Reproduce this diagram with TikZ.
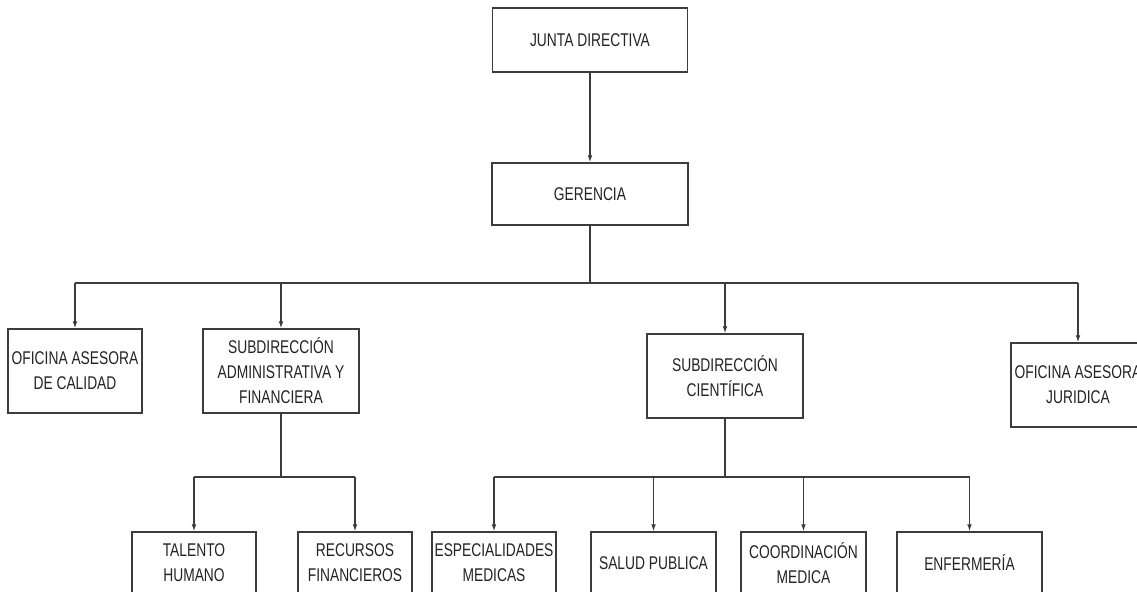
\documentclass[tikz,border=0pt]{standalone}
\usepackage{fontspec}
\setmainfont{Liberation Sans}[FakeStretch=0.75]
\usepackage{tikz}
\usetikzlibrary{arrows.meta}
\definecolor{linea}{RGB}{60,60,60}
\definecolor{texto}{RGB}{35,35,35}

\begin{document}
\begin{tikzpicture}[x=0.5pt, y=-0.5pt,
  unidad/.style={draw=linea, line width=0.75pt, align=center, inner sep=0pt,
    text=texto, font=\fontsize{9.2}{12.5}\selectfont},
  flecha/.style={draw=linea, line width=0.6pt, -{Latex[length=3.5pt,width=2.4pt]}},
  enlace/.style={draw=linea, line width=0.6pt}]
\clip (0,0) rectangle (1137,591);
\fill[white] (0,0) rectangle (1137,591);
% nivel directivo
\node[unidad, minimum width=97.5pt, minimum height=32pt] (junta) at (590,40) {JUNTA DIRECTIVA};
\node[unidad, minimum width=98pt, minimum height=31pt] (gerencia) at (590,194) {GERENCIA};
% segundo nivel
\node[unidad, minimum width=67pt, minimum height=42pt] (calidad) at (75,371) {OFICINA ASESORA\\DE CALIDAD};
\node[unidad, minimum width=78pt, minimum height=42pt] (admin) at (281,371) {SUBDIRECCI\'ON\\ADMINISTRATIVA Y\\FINANCIERA};
\node[unidad, minimum width=78pt, minimum height=42pt] (cientifica) at (725,376) {SUBDIRECCI\'ON\\CIENT\'IFICA};
\node[unidad, minimum width=67pt, minimum height=42pt] (juridica) at (1078,385) {OFICINA ASESORA\\JURIDICA};
% tercer nivel
\node[unidad, minimum width=62pt, minimum height=31pt] (talento) at (194,563) {TALENTO\\HUMANO};
\node[unidad, minimum width=57pt, minimum height=31pt] (recursos) at (355,563) {RECURSOS\\FINANCIEROS};
\node[unidad, minimum width=62pt, minimum height=31pt] (especialidades) at (494,563) {ESPECIALIDADES\\MEDICAS};
\node[unidad, minimum width=62.5pt, minimum height=31pt] (salud) at (653.5,563) {SALUD PUBLICA};
\node[unidad, minimum width=62.5pt, minimum height=31pt] (coordinacion) at (803.5,563) {COORDINACI\'ON\\MEDICA};
\node[unidad, minimum width=72.5pt, minimum height=31pt] (enfermeria) at (969.5,563) {ENFERMER\'IA};
% barras
\coordinate (barra) at (590,283);
\coordinate (barraA) at (281,477);
\coordinate (barraC) at (725,477);
\draw[flecha] (junta) -- (gerencia);
\draw[enlace] (gerencia) -- (barra);
\draw[enlace] (calidad.north |- barra) -- (juridica.north |- barra);
\draw[flecha] (calidad.north |- barra) -- (calidad.north);
\draw[flecha] (admin.north |- barra) -- (admin.north);
\draw[flecha] (cientifica.north |- barra) -- (cientifica.north);
\draw[flecha] (juridica.north |- barra) -- (juridica.north);
\draw[enlace] (admin) -- (barraA);
\draw[enlace] (talento.north |- barraA) -- (recursos.north |- barraA);
\draw[flecha] (talento.north |- barraA) -- (talento.north);
\draw[flecha] (recursos.north |- barraA) -- (recursos.north);
\draw[enlace] (cientifica) -- (barraC);
\draw[enlace] (especialidades.north |- barraC) -- (enfermeria.north |- barraC);
\foreach \n in {especialidades, salud, coordinacion, enfermeria}
  \draw[flecha] (\n.north |- barraC) -- (\n.north);
\end{tikzpicture}
\end{document}
